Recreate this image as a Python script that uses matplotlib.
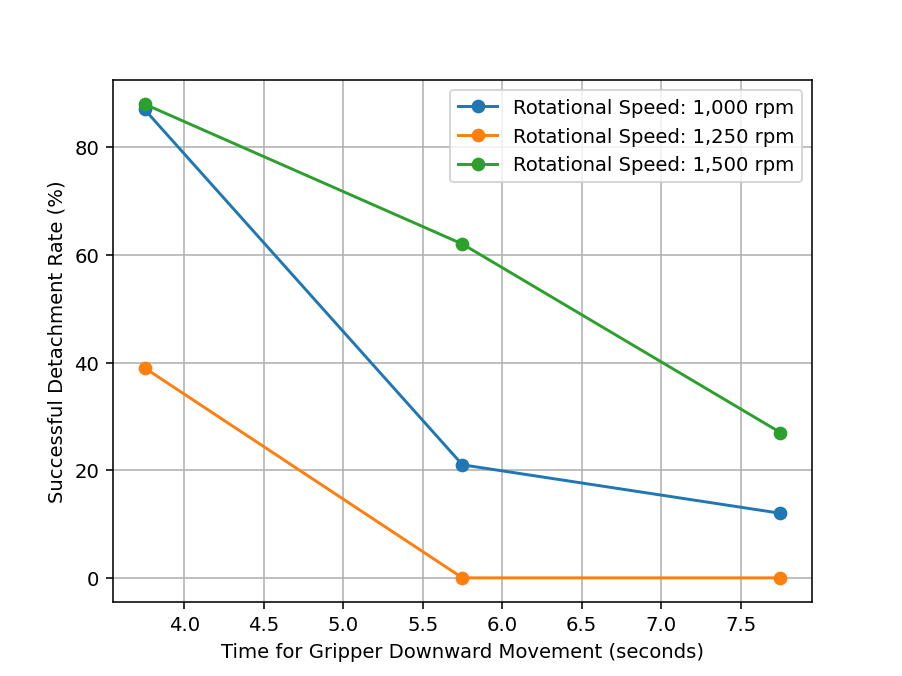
import matplotlib
matplotlib.use("Agg")
import matplotlib.pyplot as plt

times = [3.75, 5.75, 7.75]
rate_1000 = [87, 21, 12]
rate_1250 = [39, 0, 0]
rate_1500 = [88, 62, 27]
labels = ["Rotational Speed: 1,000 rpm", "Rotational Speed: 1,250 rpm", "Rotational Speed: 1,500 rpm"]

fig, ax = plt.subplots(figsize=(6.4, 4.8), dpi=141)
for vals, lab in zip([rate_1000, rate_1250, rate_1500], labels):
    ax.plot(times, vals, marker="o", label=lab)
ax.set_xlabel("Time for Gripper Downward Movement (seconds)")
ax.set_ylabel("Successful Detachment Rate (%)")
ax.grid(True)
ax.legend(loc="upper right")
fig.savefig("out.png", dpi=141)
